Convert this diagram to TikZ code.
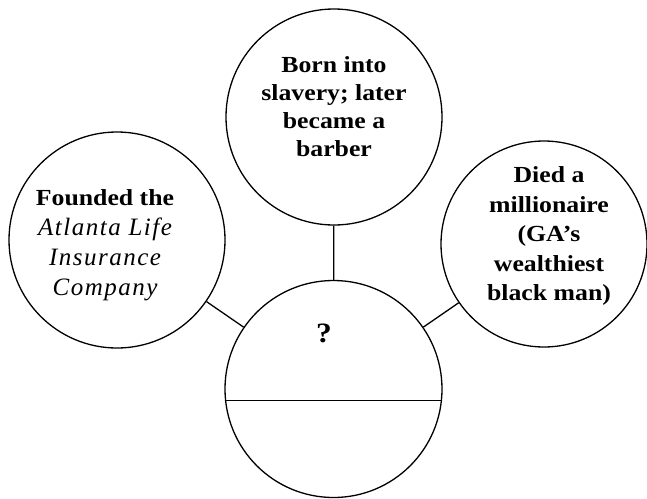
\documentclass[tikz,border=0pt]{standalone}
\usepackage{fontspec}
\setmainfont{Liberation Serif}[FakeStretch=1.12]
\newfontfamily\wideit{Liberation Serif}[LetterSpace=6]
\usetikzlibrary{positioning}

\begin{document}
\begin{tikzpicture}[x=1pt,y=-1pt,
    bubble/.style={draw,circle,line width=1.3pt,inner sep=0pt},
    factbox/.style={align=center,inner sep=0pt,font=\bfseries\fontsize{23}{28}\selectfont}
]
\useasboundingbox (0,0) rectangle (647,498);

% the four circles
\node[bubble,minimum size=216pt] (born) at (334,117) {};
\node[bubble,minimum size=216pt] (founded) at (117,240) {};
\node[bubble,minimum size=206pt] (died) at (544,244) {};
\node[bubble,minimum size=217pt] (who) at (333.5,389) {};

% texts
\node[factbox] (borntext) at (334,107) {Born into\\slavery; later\\became a\\barber};
\node[factbox,font=\fontsize{23}{30}\selectfont] (foundedtext) at (105,245)
    {\textbf{Founded the}\\{\wideit\itshape\fontsize{25}{30}\selectfont Atlanta Life}\\
     {\wideit\itshape\fontsize{25}{30}\selectfont Insurance}\\
     {\wideit\itshape\fontsize{25}{30}\selectfont Company}};
\node[factbox,font=\bfseries\fontsize{23}{29.5}\selectfont] (diedtext) at (549,236)
    {Died a\\millionaire\\(GA’s\\wealthiest\\black man)};
\node[factbox,font=\bfseries\fontsize{28}{30}\selectfont] (q) at (324,333) {?};

% connectors
\draw[line width=1.3pt] (born) -- (who);
\draw[line width=1.3pt] (founded) -- (who);
\draw[line width=1.3pt] (died) -- (who);
\draw[line width=1.3pt] (who.186.9) -- (who.-6.9);
\end{tikzpicture}
\end{document}
